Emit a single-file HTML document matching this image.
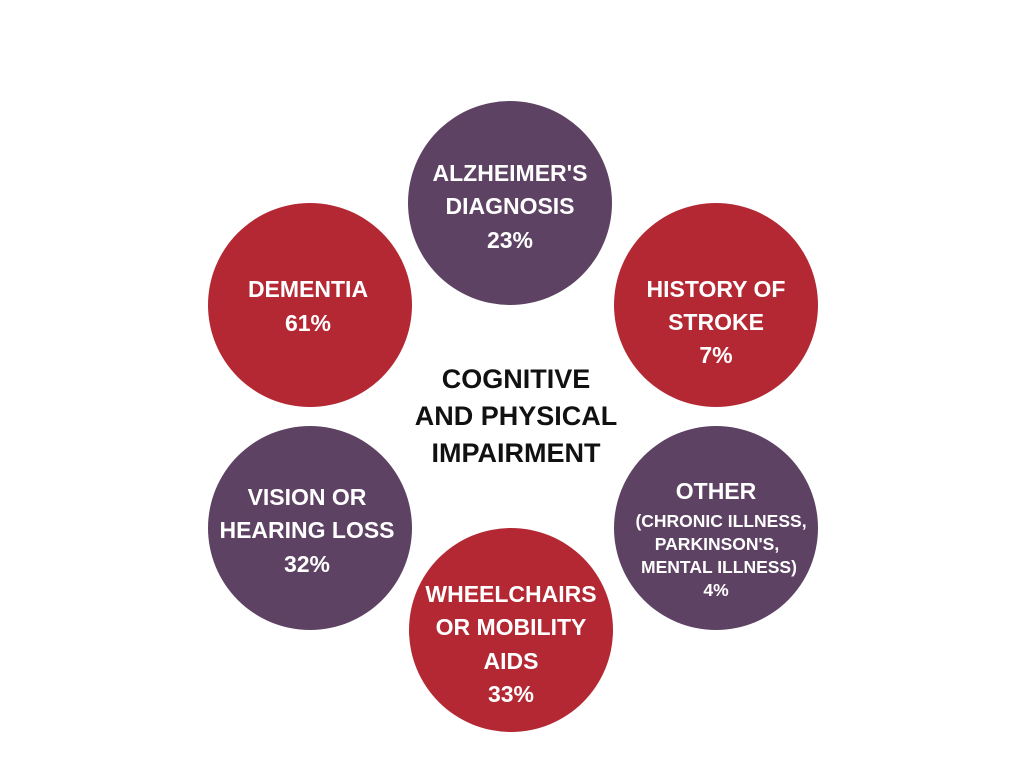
<!DOCTYPE html>
<html><head><meta charset="utf-8"><style>
body{margin:0;width:1024px;height:768px;background:#fff;position:relative;overflow:hidden;font-family:"Liberation Sans",sans-serif;font-weight:bold}
.c{position:absolute;width:204px;height:204px;border-radius:50%}
.p{background:#5e4263}.r{background:#b42834}
.t{position:absolute;width:300px;margin-left:-150px;text-align:center;color:#fff;font-size:23px;line-height:26px;margin-top:-12px;white-space:nowrap}
.s{font-size:17.5px;line-height:20px;margin-top:-10px}
.k{color:#111;font-size:27px;line-height:30px;margin-top:-15px}
</style></head><body>
<div class="c p" style="left:408px;top:101px"></div>
<div class="c r" style="left:208px;top:203px"></div>
<div class="c r" style="left:614px;top:203px"></div>
<div class="c p" style="left:208px;top:426px"></div>
<div class="c p" style="left:614px;top:426px"></div>
<div class="c r" style="left:409px;top:528px"></div>

<div class="t" style="left:510px;top:172px">ALZHEIMER'S</div>
<div class="t" style="left:510px;top:205px">DIAGNOSIS</div>
<div class="t" style="left:510px;top:239px">23%</div>

<div class="t" style="left:308px;top:288px">DEMENTIA</div>
<div class="t" style="left:308px;top:322px">61%</div>

<div class="t" style="left:716px;top:288px">HISTORY OF</div>
<div class="t" style="left:716px;top:321px">STROKE</div>
<div class="t" style="left:716px;top:354px">7%</div>

<div class="t k" style="left:516px;top:379px">COGNITIVE</div>
<div class="t k" style="left:516px;top:416px">AND PHYSICAL</div>
<div class="t k" style="left:516px;top:453px">IMPAIRMENT</div>

<div class="t" style="left:307px;top:496px">VISION OR</div>
<div class="t" style="left:307px;top:529px">HEARING LOSS</div>
<div class="t" style="left:307px;top:563px">32%</div>

<div class="t" style="left:716px;top:490px">OTHER</div>
<div class="t s" style="left:721px;top:521px">(CHRONIC ILLNESS,</div>
<div class="t s" style="left:717px;top:544px">PARKINSON'S,</div>
<div class="t s" style="left:719px;top:567px">MENTAL ILLNESS)</div>
<div class="t s" style="left:716px;top:590px">4%</div>

<div class="t" style="left:511px;top:593px">WHEELCHAIRS</div>
<div class="t" style="left:511px;top:626px">OR MOBILITY</div>
<div class="t" style="left:511px;top:660px">AIDS</div>
<div class="t" style="left:511px;top:693px">33%</div>
</body></html>
